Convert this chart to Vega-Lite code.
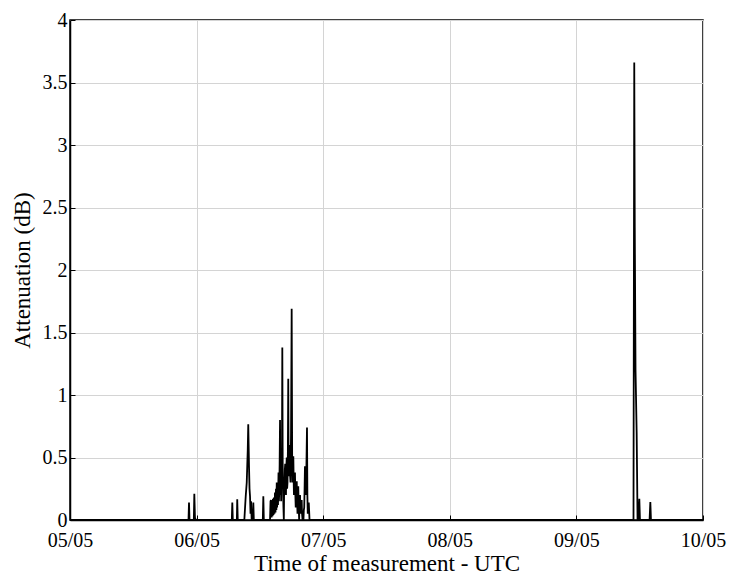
{
  "$schema": "https://vega.github.io/schema/vega-lite/v6.json",
  "width": 633,
  "height": 500,
  "autosize": "none",
  "padding": {"left": 70, "top": 20, "right": 26, "bottom": 54},
  "background": "white",
  "config": {
    "view": {"stroke": "black", "strokeWidth": 1.5},
    "font": "Liberation Serif"
  },
  "data": {
    "values": [
      {"t": 5.0, "a": 0},
      {"t": 5.936, "a": 0},
      {"t": 5.940, "a": 0.14},
      {"t": 5.944, "a": 0},
      {"t": 5.978, "a": 0},
      {"t": 5.982, "a": 0.21},
      {"t": 5.987, "a": 0.02},
      {"t": 5.994, "a": 0},
      {"t": 6.278, "a": 0},
      {"t": 6.282, "a": 0.14},
      {"t": 6.286, "a": 0},
      {"t": 6.318, "a": 0},
      {"t": 6.321, "a": 0.165},
      {"t": 6.325, "a": 0},
      {"t": 6.377, "a": 0},
      {"t": 6.388, "a": 0.19},
      {"t": 6.396, "a": 0.30},
      {"t": 6.404, "a": 0.56},
      {"t": 6.408, "a": 0.766},
      {"t": 6.414, "a": 0.43},
      {"t": 6.418, "a": 0.25},
      {"t": 6.422, "a": 0.19},
      {"t": 6.426, "a": 0.05},
      {"t": 6.430, "a": 0.15},
      {"t": 6.435, "a": 0},
      {"t": 6.444, "a": 0},
      {"t": 6.448, "a": 0.14},
      {"t": 6.452, "a": 0},
      {"t": 6.523, "a": 0},
      {"t": 6.527, "a": 0.19},
      {"t": 6.531, "a": 0},
      {"t": 6.580, "a": 0},
      {"t": 6.584, "a": 0.15},
      {"t": 6.588, "a": 0.16},
      {"t": 6.592, "a": 0.02},
      {"t": 6.596, "a": 0.15},
      {"t": 6.600, "a": 0.03},
      {"t": 6.603, "a": 0.17},
      {"t": 6.607, "a": 0.04},
      {"t": 6.611, "a": 0.18},
      {"t": 6.615, "a": 0.05},
      {"t": 6.619, "a": 0.22},
      {"t": 6.623, "a": 0.06},
      {"t": 6.627, "a": 0.25},
      {"t": 6.630, "a": 0.08},
      {"t": 6.633, "a": 0.30},
      {"t": 6.636, "a": 0.1},
      {"t": 6.639, "a": 0.28},
      {"t": 6.643, "a": 0.12},
      {"t": 6.647, "a": 0.38},
      {"t": 6.650, "a": 0.15},
      {"t": 6.652, "a": 0.2},
      {"t": 6.656, "a": 0.45},
      {"t": 6.659, "a": 0.80},
      {"t": 6.662, "a": 0.2},
      {"t": 6.665, "a": 0.35},
      {"t": 6.668, "a": 0.15},
      {"t": 6.671, "a": 0.55},
      {"t": 6.674, "a": 0.4},
      {"t": 6.677, "a": 1.38},
      {"t": 6.680, "a": 0.45},
      {"t": 6.682, "a": 0.3},
      {"t": 6.686, "a": 0.1},
      {"t": 6.689, "a": 0},
      {"t": 6.692, "a": 0.3},
      {"t": 6.694, "a": 0.25},
      {"t": 6.697, "a": 0.4},
      {"t": 6.700, "a": 0.45},
      {"t": 6.703, "a": 0.25},
      {"t": 6.706, "a": 0.2},
      {"t": 6.709, "a": 0.42},
      {"t": 6.712, "a": 0.5},
      {"t": 6.715, "a": 0.25},
      {"t": 6.718, "a": 0.3},
      {"t": 6.721, "a": 0.55},
      {"t": 6.724, "a": 1.13},
      {"t": 6.727, "a": 0.4},
      {"t": 6.730, "a": 0.35},
      {"t": 6.733, "a": 0.45},
      {"t": 6.736, "a": 0.6},
      {"t": 6.739, "a": 0.35},
      {"t": 6.742, "a": 0.3},
      {"t": 6.746, "a": 0.7},
      {"t": 6.751, "a": 1.69},
      {"t": 6.755, "a": 0.45},
      {"t": 6.758, "a": 0.3},
      {"t": 6.761, "a": 0.4},
      {"t": 6.764, "a": 0.51},
      {"t": 6.767, "a": 0.3},
      {"t": 6.769, "a": 0.2},
      {"t": 6.773, "a": 0.3},
      {"t": 6.777, "a": 0.38},
      {"t": 6.780, "a": 0.2},
      {"t": 6.783, "a": 0.1},
      {"t": 6.787, "a": 0.25},
      {"t": 6.791, "a": 0.31},
      {"t": 6.794, "a": 0.15},
      {"t": 6.797, "a": 0.05},
      {"t": 6.800, "a": 0.2},
      {"t": 6.803, "a": 0.27},
      {"t": 6.806, "a": 0.12},
      {"t": 6.810, "a": 0},
      {"t": 6.813, "a": 0.15},
      {"t": 6.817, "a": 0.2},
      {"t": 6.820, "a": 0.1},
      {"t": 6.823, "a": 0.05},
      {"t": 6.826, "a": 0.12},
      {"t": 6.830, "a": 0.16},
      {"t": 6.833, "a": 0.05},
      {"t": 6.837, "a": 0},
      {"t": 6.844, "a": 0},
      {"t": 6.847, "a": 0.08},
      {"t": 6.850, "a": 0.1},
      {"t": 6.853, "a": 0.25},
      {"t": 6.856, "a": 0.43},
      {"t": 6.860, "a": 0.25},
      {"t": 6.863, "a": 0.2},
      {"t": 6.867, "a": 0.4},
      {"t": 6.872, "a": 0.74},
      {"t": 6.875, "a": 0.2},
      {"t": 6.878, "a": 0.05},
      {"t": 6.882, "a": 0.1},
      {"t": 6.886, "a": 0.14},
      {"t": 6.892, "a": 0},
      {"t": 9.451, "a": 0},
      {"t": 9.457, "a": 3.66},
      {"t": 9.461, "a": 2.34},
      {"t": 9.467, "a": 1.2},
      {"t": 9.476, "a": 0.70},
      {"t": 9.483, "a": 0},
      {"t": 9.491, "a": 0},
      {"t": 9.497, "a": 0.17},
      {"t": 9.502, "a": 0},
      {"t": 9.578, "a": 0},
      {"t": 9.584, "a": 0.144},
      {"t": 9.589, "a": 0},
      {"t": 10.0, "a": 0}
    ]
  },
  "mark": {"type": "line", "color": "black", "strokeWidth": 1.8, "interpolate": "linear"},
  "encoding": {
    "x": {
      "field": "t",
      "type": "quantitative",
      "sort": null,
      "scale": {"domain": [5, 10], "nice": false, "zero": false},
      "axis": {
        "values": [5, 6, 7, 8, 9, 10],
        "labelExpr": "(datum.value < 10 ? '0' : '') + datum.value + '/05'",
        "title": "Time of measurement - UTC",
        "titleFont": "Liberation Serif",
        "titleFontSize": 23,
        "titleFontWeight": "normal",
        "titleColor": "black",
        "titlePadding": 2,
        "labelFont": "Liberation Serif",
        "labelFontSize": 20,
        "labelColor": "black",
        "labelPadding": 15,
        "labelFlush": false,
        "labelOverlap": false,
        "domainColor": "black",
        "domainWidth": 1.5,
        "tickColor": "black",
        "tickSize": -5,
        "tickWidth": 1,
        "grid": true,
        "gridColor": "#d4d4d4",
        "gridWidth": 1
      }
    },
    "y": {
      "field": "a",
      "type": "quantitative",
      "scale": {"domain": [0, 4], "nice": false},
      "axis": {
        "values": [0, 0.5, 1, 1.5, 2, 2.5, 3, 3.5, 4],
        "format": "~g",
        "title": "Attenuation (dB)",
        "titleFont": "Liberation Serif",
        "titleFontSize": 23,
        "titleFontWeight": "normal",
        "titleColor": "black",
        "titleX": -36,
        "titleY": 250,
        "titleAngle": 270,
        "titleBaseline": "bottom",
        "labelFont": "Liberation Serif",
        "labelFontSize": 20,
        "labelColor": "black",
        "labelPadding": 8,
        "labelFlush": false,
        "labelOverlap": false,
        "domainColor": "black",
        "domainWidth": 1.5,
        "tickColor": "black",
        "tickSize": -5,
        "tickWidth": 1,
        "grid": true,
        "gridColor": "#d4d4d4",
        "gridWidth": 1
      }
    }
  }
}
